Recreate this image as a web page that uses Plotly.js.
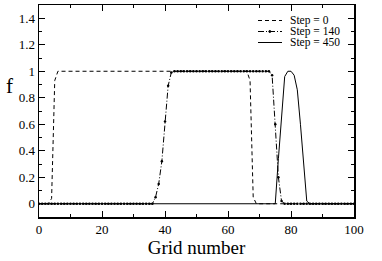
<!DOCTYPE html>
<html>
<head>
<meta charset="utf-8">
<script src="https://cdn.plot.ly/plotly-3.0.1.min.js"></script>
<style>html,body{margin:0;padding:0;background:#fff;}#chart{width:382px;height:261px;}</style>
</head>
<body>
<div id="chart"></div>
<script>
// Grid numbers 0..100
var gridNumber = [0,1,2,3,4,5,6,7,8,9,10,11,12,13,14,15,16,17,18,19,20,21,22,23,24,25,26,27,28,29,30,31,32,33,34,35,36,37,38,39,40,41,42,43,44,45,46,47,48,49,50,51,52,53,54,55,56,57,58,59,60,61,62,63,64,65,66,67,68,69,70,71,72,73,74,75,76,77,78,79,80,81,82,83,84,85,86,87,88,89,90,91,92,93,94,95,96,97,98,99,100];

// Step = 0
var step0 = [0,0,0,0,0.04,0.93,1,1,1,1, 1,1,1,1,1,1,1,1,1,1, 1,1,1,1,1,1,1,1,1,1, 1,1,1,1,1,1,1,1,1,1, 1,1,1,1,1,1,1,1,1,1, 1,1,1,1,1,1,1,1,1,1, 1,1,1,1,1,1,1,0.93,0.05,0, 0,0,0,0,0,0,0,0,0,0, 0,0,0,0,0,0,0,0,0,0, 0,0,0,0,0,0,0,0,0,0, 0];

// Step = 140
var step140 = [0,0,0,0,0,0,0,0,0,0, 0,0,0,0,0,0,0,0,0,0, 0,0,0,0,0,0,0,0,0,0, 0,0,0,0,0,0,0,0.05,0.15,0.32, 0.62,0.89,0.99,1,1,1,1,1,1,1, 1,1,1,1,1,1,1,1,1,1, 1,1,1,1,1,1,1,1,1,1, 1,1,1,1,0.97,0.6,0.2,0.02,0,0, 0,0,0,0,0,0,0,0,0,0, 0,0,0,0,0,0,0,0,0,0, 0];

// Step = 450
var step450 = [0,0,0,0,0,0,0,0,0,0, 0,0,0,0,0,0,0,0,0,0, 0,0,0,0,0,0,0,0,0,0, 0,0,0,0,0,0,0,0,0,0, 0,0,0,0,0,0,0,0,0,0, 0,0,0,0,0,0,0,0,0,0, 0,0,0,0,0,0,0,0,0,0, 0,0,0,0,0,0,0.34,0.69,0.96,1, 1,0.97,0.86,0.6,0.28,0.02,0,0,0,0, 0,0,0,0,0,0,0,0,0,0, 0];

var seriesNames = ["Step = 0", "Step = 140", "Step = 450"];
var xTitle = "Grid number";
var yTitle = "f";

var FONT = "Liberation Serif, Times New Roman, serif";

var traces = [
  {x: gridNumber, y: step450, type: "scatter", mode: "lines", name: seriesNames[2],
   line: {color: "#000", width: 1}},
  {x: gridNumber, y: step0, type: "scatter", mode: "lines", name: seriesNames[0],
   line: {color: "#000", width: 1, dash: "4px,3px"}},
  {x: gridNumber, y: step140, type: "scatter", mode: "lines+markers", name: seriesNames[1],
   line: {color: "#000", width: 1, dash: "6px,2px,1px,2px"},
   marker: {color: "#000", size: 2.5}}
];

// legend drawn manually (tight spacing)
var L = 39, R = 354, T = 5, B = 217;
function px(v){ return (v - L) / (R - L); }
function py(v){ return (B - v) / (B - T); }
var legY = [20.5, 31.5, 42.5];
var dashes = ["4px,3px", "6px,2px,1px,2px", "solid"];
var shapes = [];
var annotations = [];
for (var i = 0; i < 3; i++) {
  shapes.push({type: "line", xref: "paper", yref: "paper",
    x0: px(258), x1: px(282), y0: py(legY[i]), y1: py(legY[i]),
    line: {color: "#000", width: 1, dash: dashes[i]}});
  annotations.push({xref: "paper", yref: "paper", x: px(288), y: py(legY[i]),
    xanchor: "left", yanchor: "middle", showarrow: false, text: seriesNames[i],
    font: {family: FONT, size: 11.5, color: "#000"}});
}
shapes.push({type: "circle", xref: "paper", yref: "paper",
  x0: px(268.8), x1: px(270.8), y0: py(legY[1] + 1), y1: py(legY[1] - 1),
  fillcolor: "#000", line: {color: "#000", width: 1}});
annotations.push({xref: "paper", yref: "paper", x: px(9), y: py(86),
  xanchor: "center", yanchor: "middle", showarrow: false, text: yTitle,
  font: {family: FONT, size: 21, color: "#000"}});

var layout = {
  width: 382, height: 261,
  margin: {l: L, r: 382 - R, t: T, b: 261 - B, pad: 0},
  paper_bgcolor: "#fff", plot_bgcolor: "#fff",
  showlegend: false,
  font: {family: FONT, size: 13, color: "#000"},
  xaxis: {
    range: [0, 100], tick0: 0, dtick: 20, ticks: "inside", ticklen: 6, tickwidth: 1,
    tickcolor: "#000", showline: true, linecolor: "#000", linewidth: 1.5, mirror: "ticks",
    showgrid: false, zeroline: false, automargin: false,
    minor: {dtick: 10, ticks: "inside", ticklen: 3, tickwidth: 1, tickcolor: "#000", showgrid: false},
    tickfont: {family: FONT, size: 13, color: "#000"},
    title: {text: xTitle, font: {family: FONT, size: 19, color: "#000"}, standoff: 4}
  },
  yaxis: {
    range: [-0.1, 1.5], tick0: 0, dtick: 0.2, ticks: "inside", ticklen: 6, tickwidth: 1,
    tickcolor: "#000", showline: true, linecolor: "#000", linewidth: 1.5, mirror: "ticks",
    showgrid: false, zeroline: false, automargin: false,
    minor: {dtick: 0.1, ticks: "inside", ticklen: 3, tickwidth: 1, tickcolor: "#000", showgrid: false},
    tickfont: {family: FONT, size: 13, color: "#000"}
  },
  shapes: shapes,
  annotations: annotations
};

Plotly.newPlot("chart", traces, layout, {staticPlot: true, displayModeBar: false});
</script>
</body>
</html>
